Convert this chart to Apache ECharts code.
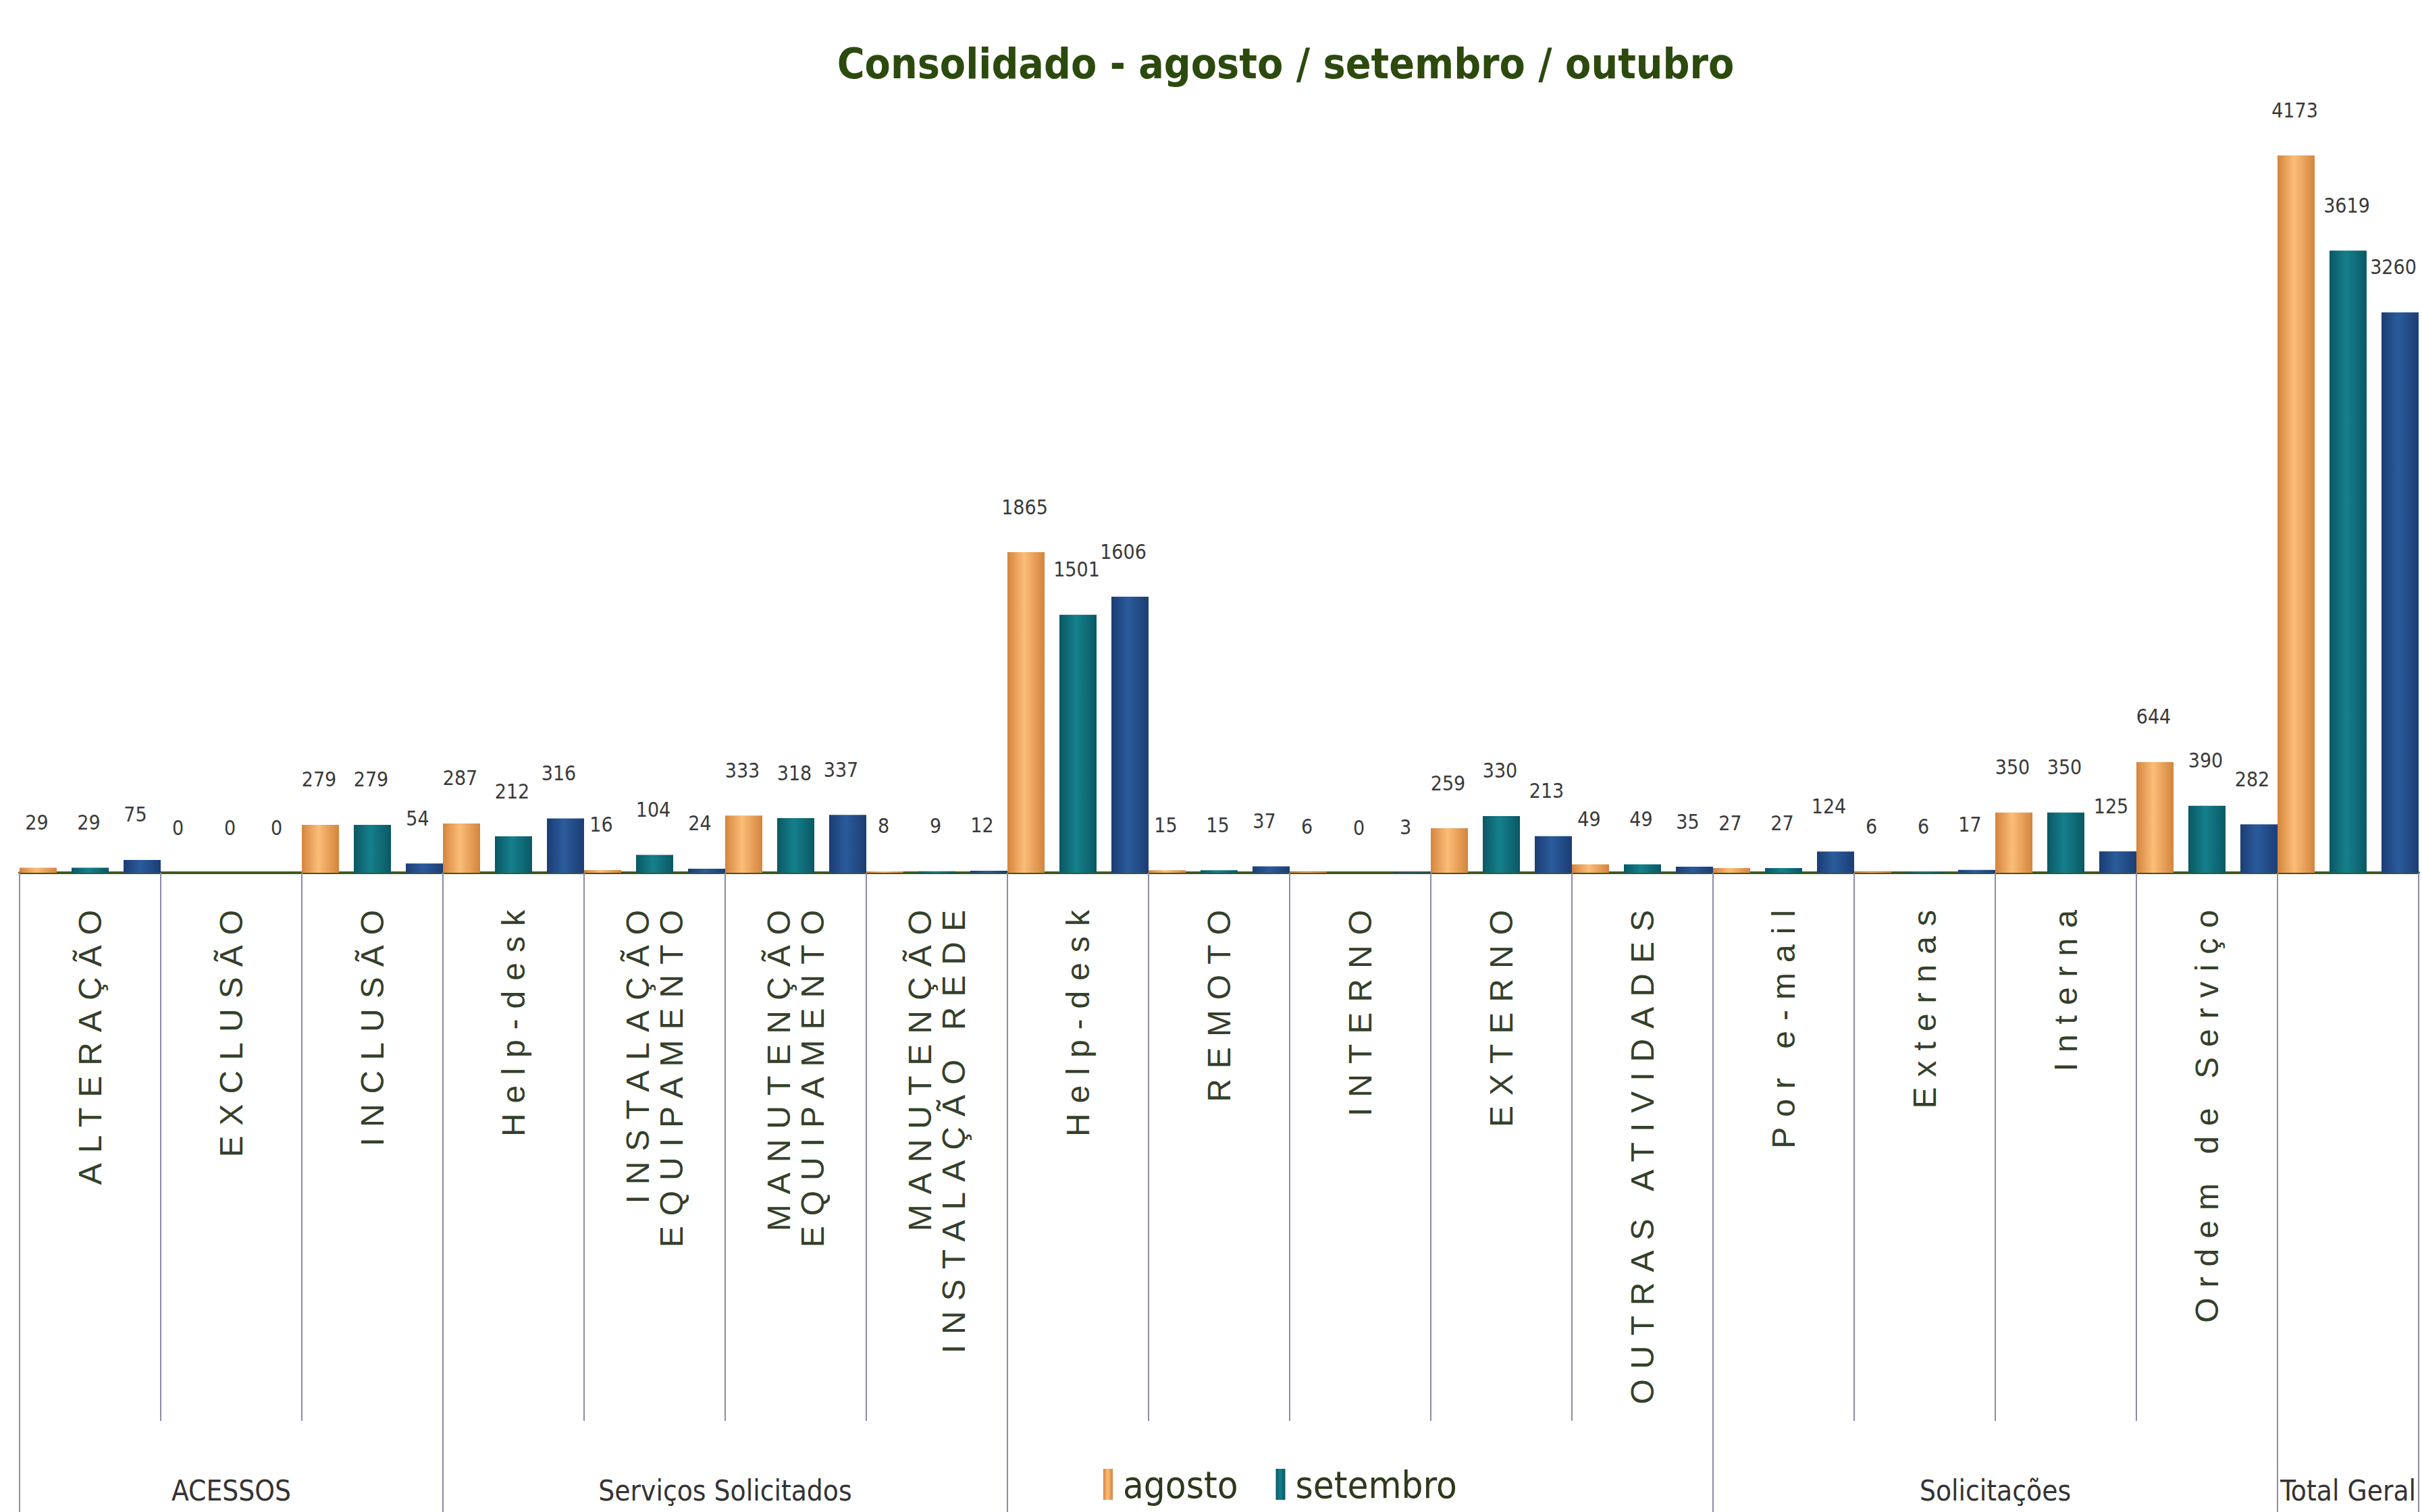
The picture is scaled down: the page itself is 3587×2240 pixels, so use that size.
<!DOCTYPE html>
<html><head><meta charset="utf-8">
<script src="https://cdn.jsdelivr.net/npm/echarts@6/dist/echarts.min.js"></script>
<style>
html,body{margin:0;padding:0;background:#fff}
#c{width:3587px;height:2240px}
#c text[style*="Arial"]{letter-spacing:15px}
</style></head><body><div id="c"></div>
<script>
const categories = ['ALTERAÇÃO','EXCLUSÃO','INCLUSÃO','Help-desk','INSTALAÇÃO\nEQUIPAMENTO','MANUTENÇÃO\nEQUIPAMENTO','MANUTENÇÃO\nINSTALAÇÃO REDE','Help-desk','REMOTO','INTERNO','EXTERNO','OUTRAS ATIVIDADES','Por e-mail','Externas','Interna','Ordem de Serviço',''];
const agosto   = [29, 0, 279, 287, 16, 333, 8, 1865, 15, 6, 259, 49, 27, 6, 350, 644, 4173];
const setembro = [29, 0, 279, 212, 104, 318, 9, 1501, 15, 0, 330, 49, 27, 6, 350, 390, 3619];
const outubro  = [75, 0, 54, 316, 24, 337, 12, 1606, 37, 3, 213, 35, 124, 17, 125, 282, 3260];
const groupNames   = ['ACESSOS', 'Serviços Solicitados', '', 'Solicitações', 'Total Geral'];
const groupBounds  = [0, 3, 7, 12, 16, 17];
const groupCenters = [1.5, 5, 9.5, 14, 16.5];
const seriesNames  = ['agosto', 'setembro', 'outubro'];

function grad(edge, mid) {
  return new echarts.graphic.LinearGradient(0, 0, 1, 0, [
    {offset: 0, color: edge}, {offset: 0.45, color: mid}, {offset: 1, color: edge}
  ]);
}
const colors = [grad('#d4843c', '#fbbd78'), grad('#0a5864', '#14808c'), grad('#1b3d74', '#2b5b9c')];
const narrow = "'DejaVu Sans Condensed', 'Liberation Sans', sans-serif";

const chart = echarts.init(document.getElementById('c'), null, {renderer: 'svg'});
const mk = (name, data, i) => ({
  name, type: 'bar', data, barWidth: 55, barGap: '40%',
  itemStyle: {color: colors[i]},
  label: {show: true, position: 'top', distance: 52, offset: [i === 2 ? -10 : -2, 0],
    fontFamily: narrow, fontSize: 30, color: '#3a3a3a'}
});
chart.setOption({
  backgroundColor: '#fff',
  animation: false,
  title: {
    text: 'Consolidado - agosto / setembro / outubro',
    left: 1899, top: 58, textAlign: 'center',
    textStyle: {fontFamily: narrow, fontWeight: 'bold', fontSize: 62, color: '#2c4a0e'}
  },
  legend: {
    data: ['agosto', 'setembro'], left: 1629, top: 2166, icon: 'rect',
    itemWidth: 14, itemHeight: 46, itemGap: 56,
    textStyle: {fontFamily: narrow, fontSize: 56, color: '#2d3a1c', padding: [0, 0, 0, 10]}
  },
  grid: {left: 29, right: 5, top: 147, bottom: 947, outerBoundsMode: 'none'},
  xAxis: [
    {
      type: 'category', data: categories,
      axisLine: {show: true, lineStyle: {color: '#3d5a1e', width: 4}},
      axisTick: {show: true, length: 812, lineStyle: {color: '#8e8aa6', width: 2}},
      axisLabel: {interval: 0, rotate: 90, margin: 40, fontFamily: "Arial, 'Liberation Sans'", fontSize: 48, lineHeight: 50, color: '#34402a'}
    },
    {
      type: 'value', min: 0, max: 17, position: 'bottom',
      axisLine: {show: false}, splitLine: {show: false},
      axisTick: {show: true, length: 947, customValues: groupBounds, lineStyle: {color: '#8e8aa6', width: 2}},
      axisLabel: {show: true, customValues: groupCenters, margin: 894,
        formatter: v => groupNames[groupCenters.indexOf(v)] || '',
        fontFamily: narrow, fontSize: 42, color: '#333'}
    }
  ],
  yAxis: {type: 'value', min: 0, max: 4500, show: false, splitLine: {show: false}},
  series: [mk(seriesNames[0], agosto, 0), mk(seriesNames[1], setembro, 1), mk(seriesNames[2], outubro, 2)]
});
</script></body></html>
